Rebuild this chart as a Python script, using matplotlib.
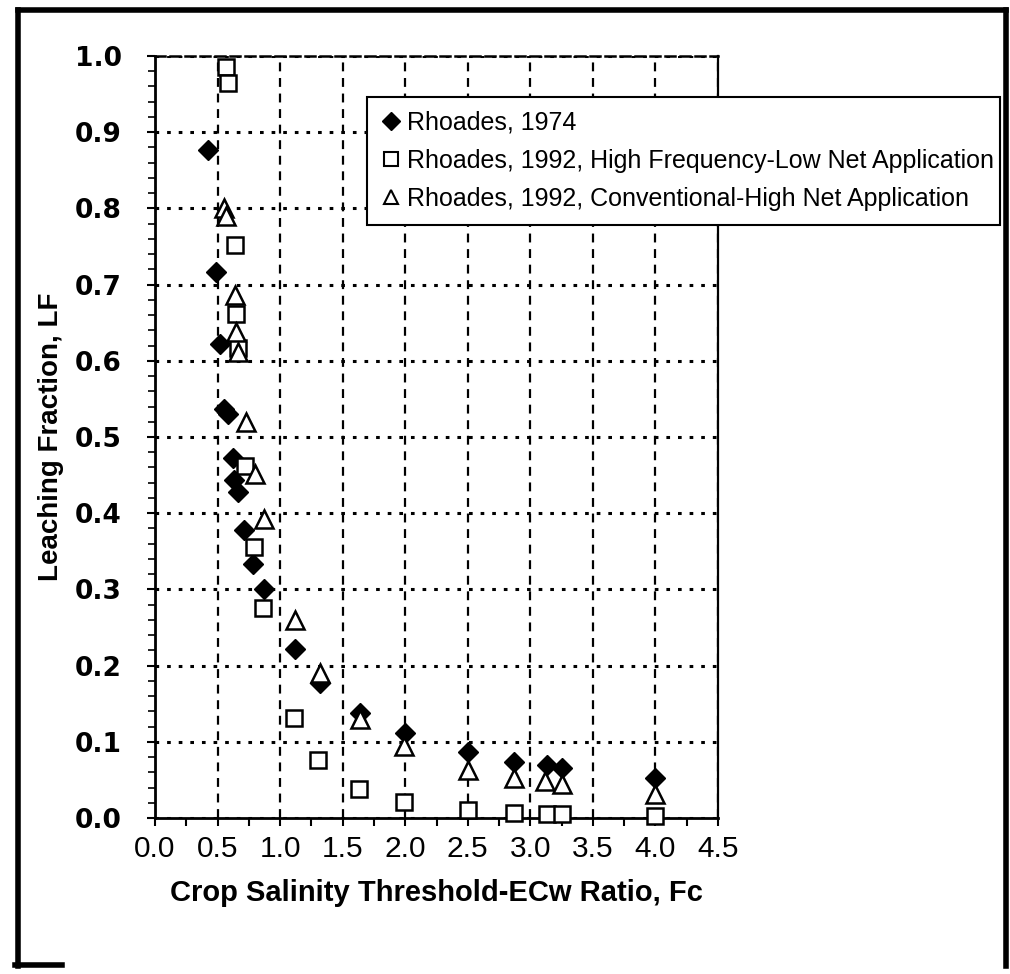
import numpy as np
import matplotlib.pyplot as plt
from matplotlib.lines import Line2D
from matplotlib.ticker import MultipleLocator, FormatStrFormatter

# Rhoades, 1974 (filled diamonds)
fc_1974 = [0.42, 0.49, 0.52, 0.55, 0.58, 0.62, 0.63, 0.66, 0.71, 0.78, 0.87,
           1.12, 1.32, 1.64, 2.00, 2.50, 2.87, 3.13, 3.25, 4.00]
lf_1974 = [0.876, 0.717, 0.622, 0.537, 0.530, 0.473, 0.443, 0.428, 0.378, 0.333, 0.300,
           0.222, 0.177, 0.138, 0.112, 0.087, 0.073, 0.069, 0.066, 0.053]

# Rhoades, 1992, high frequency - low net application (open squares)
fc_hf = [0.57, 0.58, 0.64, 0.65, 0.66, 0.72, 0.79, 0.86, 1.11, 1.30, 1.63,
         1.99, 2.50, 2.87, 3.13, 3.25, 4.00]
lf_hf = [0.986, 0.964, 0.752, 0.662, 0.617, 0.462, 0.355, 0.275, 0.131, 0.076, 0.038,
         0.021, 0.011, 0.007, 0.005, 0.005, 0.003]

# Rhoades, 1992, conventional - high net application (open triangles)
fc_conv = [0.55, 0.57, 0.64, 0.65, 0.66, 0.73, 0.80, 0.87, 1.12, 1.32, 1.64,
           1.99, 2.50, 2.87, 3.12, 3.25, 4.00]
lf_conv = [0.800, 0.790, 0.687, 0.638, 0.612, 0.520, 0.451, 0.393, 0.260, 0.190, 0.130,
           0.095, 0.063, 0.053, 0.048, 0.045, 0.032]

labels = ['Rhoades, 1974',
          'Rhoades, 1992, High Frequency-Low Net Application',
          'Rhoades, 1992, Conventional-High Net Application']

W, H = 1010, 974
fig = plt.figure(figsize=(W / 100, H / 100), dpi=100)
ax = fig.add_axes([155 / W, 1 - 818 / H, 563 / W, 762 / H])

ax.plot(fc_1974, lf_1974, 'D', color='black', ms=10.5, ls='none',
        clip_on=False, zorder=4, label=labels[0])
ax.plot(fc_hf, lf_hf, 's', mfc='white', mec='black', mew=1.8, ms=11.5, ls='none',
        clip_on=False, zorder=5, label=labels[1])
ax.plot(fc_conv, lf_conv, '^', mfc='white', mec='black', mew=1.8, ms=13, ls='none',
        clip_on=False, zorder=6, label=labels[2])

ax.set_xlim(0, 4.5)
ax.set_ylim(0, 1.0)
ax.xaxis.set_major_locator(MultipleLocator(0.5))
ax.xaxis.set_minor_locator(MultipleLocator(0.25))
ax.yaxis.set_major_locator(MultipleLocator(0.1))
ax.yaxis.set_minor_locator(MultipleLocator(0.02))
ax.xaxis.set_major_formatter(FormatStrFormatter('%.1f'))
ax.yaxis.set_major_formatter(FormatStrFormatter('%.1f'))

ax.xaxis.grid(True, which='major', color='black', lw=1.6, ls=(0, (4, 3)))
ax.yaxis.grid(True, which='major', color='black', lw=2.2, ls=(0, (1.2, 2.6)))
ax.set_axisbelow(True)

ax.tick_params(axis='x', which='both', direction='out', length=6, width=1.5,
               pad=6, labelsize=21.5)
ax.tick_params(axis='y', which='major', direction='out', length=6, width=1.5,
               pad=18, labelsize=19)
ax.tick_params(axis='y', which='minor', direction='out', length=5, width=1.2)
for t in ax.get_xticklabels():
    t.set_fontfamily('Liberation Sans')
for t in ax.get_yticklabels():
    t.set_fontfamily('DejaVu Sans')
    t.set_fontweight('bold')

ax.spines['left'].set_linewidth(2)
ax.spines['bottom'].set_linewidth(2)
ax.spines['right'].set_linewidth(1.6)
ax.spines['top'].set_linewidth(1.8)
ax.spines['top'].set_linestyle((0, (4, 2)))

ax.set_xlabel('Crop Salinity Threshold-ECw Ratio, Fc', fontsize=21,
              fontweight='bold', family='Liberation Sans', labelpad=12)
ax.set_ylabel('Leaching Fraction, LF', fontsize=20, fontweight='bold',
              family='Liberation Sans', labelpad=8)

handles = [
    Line2D([], [], marker='D', color='black', ls='none', ms=9),
    Line2D([], [], marker='s', mfc='white', mec='black', mew=1.5, ls='none', ms=10),
    Line2D([], [], marker='^', mfc='white', mec='black', mew=1.5, ls='none', ms=10),
]
leg = ax.legend(handles, labels, loc='upper left',
                bbox_to_anchor=(367 / W, 1 - 232 / H, (1000 - 367) / W, (232 - 97) / H),
                bbox_transform=fig.transFigure, mode='expand',
                prop={'family': 'Liberation Sans', 'size': 18},
                frameon=True, fancybox=False, framealpha=1, edgecolor='black',
                borderpad=0.55, labelspacing=0.56, handlelength=0.8,
                handletextpad=0.25, borderaxespad=0)
leg.get_frame().set_linewidth(1.5)
leg.set_zorder(10)

# scanned page border
border = dict(color='black', lw=4, transform=fig.transFigure, clip_on=False)
fig.add_artist(Line2D([18 / W, 18 / W], [1 - 10 / H, 1 - 966 / H], **border))
fig.add_artist(Line2D([18 / W, 1006 / W], [1 - 10 / H, 1 - 10 / H], **border))
fig.add_artist(Line2D([1006 / W, 1006 / W], [1 - 10 / H, 1 - 966 / H], **border))
fig.add_artist(Line2D([15 / W, 62 / W], [1 - 965 / H, 1 - 965 / H], **border))

fig.savefig('out.png', dpi=100, facecolor='white')
